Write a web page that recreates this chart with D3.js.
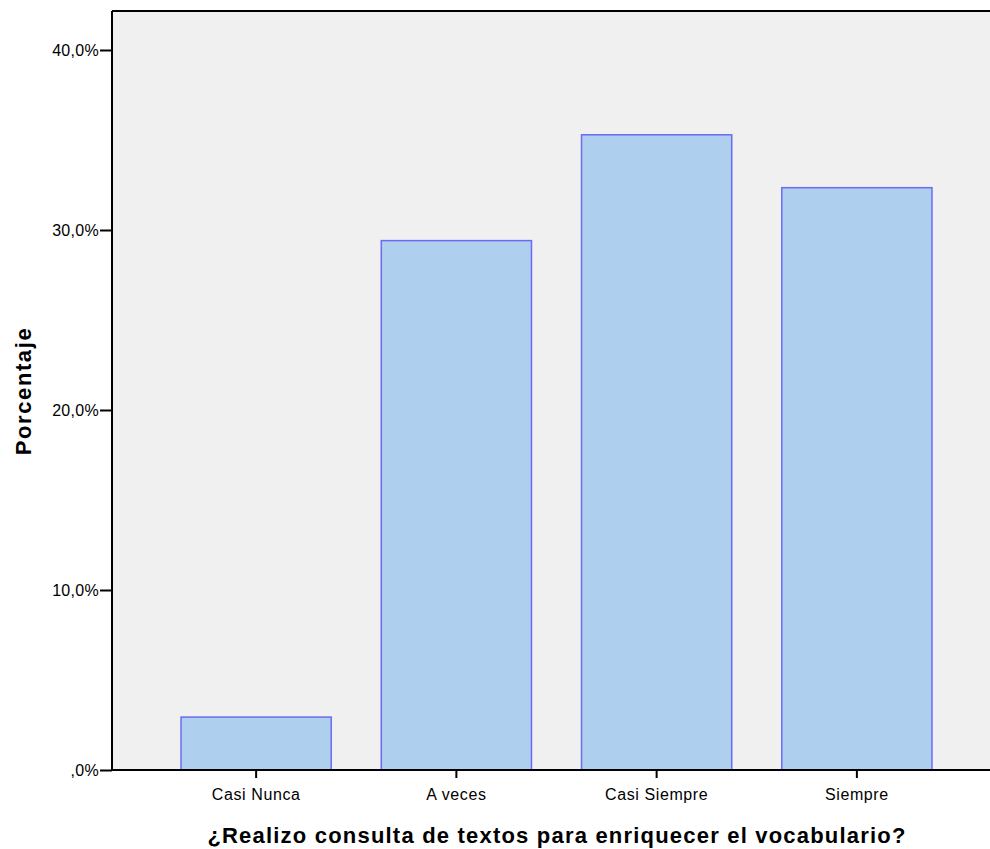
<!DOCTYPE html>
<html><head><meta charset="utf-8">
<script src="https://cdn.jsdelivr.net/npm/d3@7"></script>
<style>body{margin:0;background:#fff}svg{display:block}text{font-family:"Liberation Sans",Arial,sans-serif;fill:#000}</style>
</head><body><svg id="c" width="990" height="849"></svg>
<script>
const categories = ["Casi Nunca", "A veces", "Casi Siempre", "Siempre"];
const values = [2.94, 29.41, 35.29, 32.35];
const yTicks = [0, 10, 20, 30, 40];
const yTickLabels = [",0%", "10,0%", "20,0%", "30,0%", "40,0%"];
const xTitle = "¿Realizo consulta de textos para enriquecer el vocabulario?";
const yTitle = "Porcentaje";

(function () {
const svg = d3.select("#c");
const pL = 112, pT = 11, pR = 1010, pB = 770;
const y = d3.scaleLinear().domain([0, 40]).range([pB, 50]);
const x = d3.scaleBand().domain(categories).range([156, 957]).paddingInner(0.25).paddingOuter(0.125);

svg.append("rect").attr("x", pL).attr("y", pT).attr("width", pR - pL).attr("height", pB - pT).attr("fill", "#f0f0f0");
svg.append("line").attr("x1", pL).attr("x2", pR).attr("y1", pT).attr("y2", pT).attr("stroke", "#000").attr("stroke-width", 2);

svg.selectAll(".bar").data(values).enter().append("rect")
  .attr("x", (d, i) => x(categories[i]))
  .attr("y", d => y(d))
  .attr("width", x.bandwidth())
  .attr("height", d => pB - y(d))
  .attr("fill", "#aecfee").attr("stroke", "#6b6bf2").attr("stroke-width", 1.5);

const yAxis = d3.axisLeft(y).tickValues(yTicks).tickFormat((d, i) => yTickLabels[i]).tickSize(12).tickPadding(1);
const gy = svg.append("g").attr("transform", `translate(${pL},0)`).call(yAxis);
gy.select(".domain").attr("d", `M0,${pT}V${pB}`).attr("stroke", "#000").attr("stroke-width", 2);
gy.selectAll(".tick line").attr("stroke-width", 2);
gy.selectAll("text").style("font-size", "16px").style("letter-spacing", "0.3px").attr("font-family", null);

const xAxis = d3.axisBottom(x).tickSize(8).tickPadding(11);
const gx = svg.append("g").attr("transform", `translate(0,${pB})`).call(xAxis);
gx.select(".domain").attr("d", `M${pL},0H${pR}`).attr("stroke", "#000").attr("stroke-width", 2);
gx.selectAll(".tick line").attr("stroke-width", 2);
gx.selectAll("text").style("font-size", "16px").style("letter-spacing", "0.6px").attr("font-family", null);

svg.append("text").attr("x", 557).attr("y", 843).attr("text-anchor", "middle")
  .style("font-size", "22px").style("font-weight", "bold").style("letter-spacing", "1.2px").text(xTitle);
svg.append("text").attr("transform", "translate(31,391) rotate(-90)").attr("text-anchor", "middle")
  .style("font-size", "22px").style("font-weight", "bold").style("letter-spacing", "1.6px").text(yTitle);
})();
</script></body></html>
